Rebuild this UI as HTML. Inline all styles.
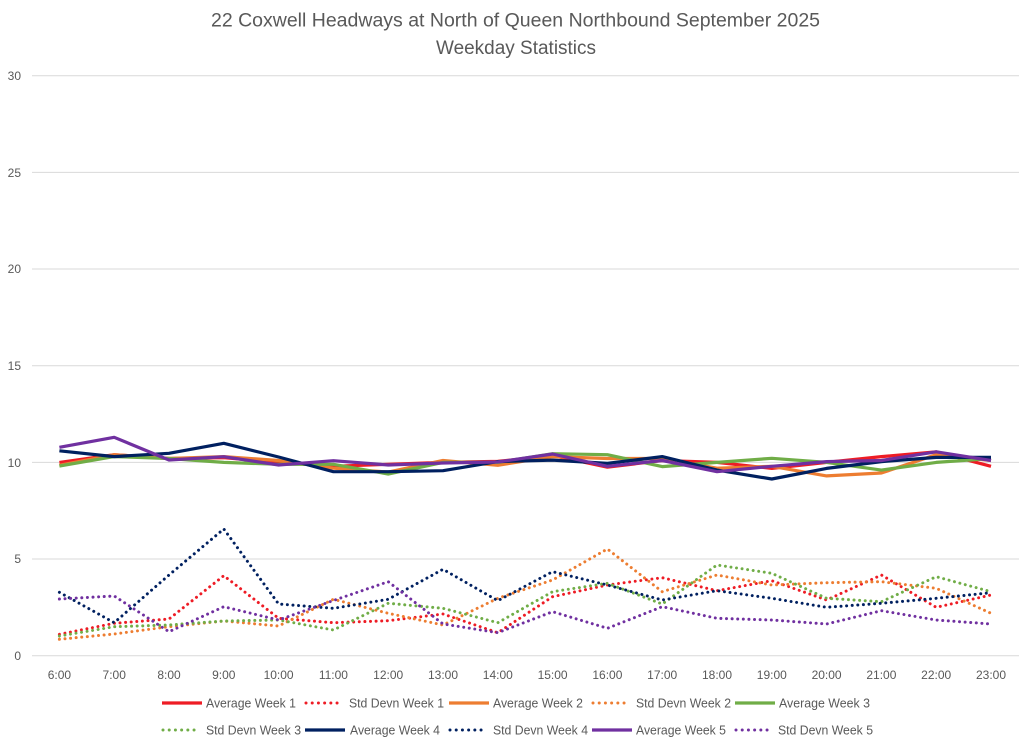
<!DOCTYPE html>
<html>
<head>
<meta charset="utf-8">
<style>
  html,body{margin:0;padding:0;background:#fff;}
  svg{display:block;}
  text{font-family:"Liberation Sans",sans-serif;fill:#595959;}
</style>
</head>
<body>
<svg width="1024" height="741" viewBox="0 0 1024 741" xmlns="http://www.w3.org/2000/svg">
  <rect width="1024" height="741" fill="#fff"/>
  <!-- Title -->
  <text x="515.5" y="26.5" font-size="19" text-anchor="middle" textLength="609" lengthAdjust="spacingAndGlyphs">22 Coxwell Headways at North of Queen Northbound September 2025</text>
  <text x="516" y="54" font-size="19" text-anchor="middle" textLength="160" lengthAdjust="spacingAndGlyphs">Weekday Statistics</text>

  <!-- Gridlines -->
  <g stroke="#d9d9d9" stroke-width="1">
    <line x1="32" y1="75.7" x2="1019" y2="75.7"/>
    <line x1="32" y1="172.4" x2="1019" y2="172.4"/>
    <line x1="32" y1="269" x2="1019" y2="269"/>
    <line x1="32" y1="365.7" x2="1019" y2="365.7"/>
    <line x1="32" y1="462.4" x2="1019" y2="462.4"/>
    <line x1="32" y1="559" x2="1019" y2="559"/>
    <line x1="32" y1="655.7" x2="1019" y2="655.7"/>
  </g>

  <!-- Y labels -->
  <g font-size="12" text-anchor="end">
    <text x="21" y="80">30</text>
    <text x="21" y="177">25</text>
    <text x="21" y="273">20</text>
    <text x="21" y="370">15</text>
    <text x="21" y="467">10</text>
    <text x="21" y="563">5</text>
    <text x="21" y="660">0</text>
  </g>

  <!-- X labels -->
  <g font-size="12" text-anchor="middle">
    <text x="59.4" y="679">6:00</text>
    <text x="114.2" y="679">7:00</text>
    <text x="169" y="679">8:00</text>
    <text x="223.8" y="679">9:00</text>
    <text x="278.6" y="679">10:00</text>
    <text x="333.4" y="679">11:00</text>
    <text x="388.2" y="679">12:00</text>
    <text x="443" y="679">13:00</text>
    <text x="497.8" y="679">14:00</text>
    <text x="552.6" y="679">15:00</text>
    <text x="607.4" y="679">16:00</text>
    <text x="662.2" y="679">17:00</text>
    <text x="717" y="679">18:00</text>
    <text x="771.8" y="679">19:00</text>
    <text x="826.6" y="679">20:00</text>
    <text x="881.4" y="679">21:00</text>
    <text x="936.2" y="679">22:00</text>
    <text x="991" y="679">23:00</text>
  </g>

  <!-- Series -->
  <g fill="none" stroke-linejoin="round">
    <polyline stroke="#ee1c25" stroke-width="3.2" points="59.4,462.4 114.2,454.7 169,458.5 223.8,457.6 278.6,462.4 333.4,466.3 388.2,464.3 443,462.4 497.8,461.4 552.6,455.6 607.4,467.2 662.2,460.5 717,462.4 771.8,468.4 826.6,462.4 881.4,456.6 936.2,451.8 991,466.3"/>
    <polyline stroke="#ee1c25" stroke-width="3" stroke-linecap="round" stroke-dasharray="0.01 5.6" points="59.4,634.3 114.2,623.3 169,619 223.8,575.7 278.6,618.3 333.4,622.7 388.2,620.7 443,614 497.8,632.7 552.6,596.7 607.4,585 662.2,577.7 717,590.7 771.8,580.7 826.6,600 881.4,575 936.2,607.3 991,595"/>
    <polyline stroke="#ed7d31" stroke-width="3.2" points="59.4,465.3 114.2,454.7 169,458.5 223.8,456.6 278.6,460.5 333.4,468.2 388.2,472.1 443,460.5 497.8,465.3 552.6,456.6 607.4,458.5 662.2,458.5 717,468.2 771.8,466.3 826.6,475.9 881.4,473 936.2,454.7 991,460.5"/>
    <polyline stroke="#ed7d31" stroke-width="3" stroke-linecap="round" stroke-dasharray="0.01 5.6" points="59.4,639.3 114.2,634 169,626.7 223.8,621 278.6,626 333.4,599.3 388.2,613.3 443,625 497.8,598.3 552.6,580 607.4,549 662.2,591.7 717,575 771.8,585 826.6,582.7 881.4,581.7 936.2,588.3 991,613.3"/>
    <polyline stroke="#70ad47" stroke-width="3.2" points="59.4,466 114.2,456.6 169,458.5 223.8,462.4 278.6,464.3 333.4,464.3 388.2,474 443,462.4 497.8,462.4 552.6,453.7 607.4,454.7 662.2,466.6 717,462.4 771.8,458.3 826.6,462.4 881.4,470.1 936.2,462.4 991,458.5"/>
    <polyline stroke="#70ad47" stroke-width="3" stroke-linecap="round" stroke-dasharray="0.01 5.6" points="59.4,636 114.2,626.7 169,625 223.8,621 278.6,620 333.4,630 388.2,603.3 443,608.3 497.8,622.7 552.6,591.7 607.4,583.3 662.2,604 717,565 771.8,573.3 826.6,598.3 881.4,601.7 936.2,576.7 991,591.7"/>
    <polyline stroke="#002060" stroke-width="3.2" points="59.4,450.8 114.2,456.6 169,453.3 223.8,443.3 278.6,457 333.4,471.7 388.2,471.7 443,470.7 497.8,461.6 552.6,460.1 607.4,463.4 662.2,456.6 717,470.1 771.8,479 826.6,468.4 881.4,461.6 936.2,457.4 991,457.4"/>
    <polyline stroke="#002060" stroke-width="3" stroke-linecap="round" stroke-dasharray="0.01 5.6" points="59.4,592.3 114.2,622.7 169,575 223.8,529 278.6,604 333.4,608.3 388.2,599.3 443,569.3 497.8,600.7 552.6,571.7 607.4,585 662.2,600 717,590.7 771.8,598.3 826.6,607.3 881.4,603.3 936.2,598.3 991,592.7"/>
    <polyline stroke="#7030a0" stroke-width="3.2" points="59.4,447.3 114.2,437.3 169,460 223.8,456.7 278.6,465 333.4,460.7 388.2,465 443,463 497.8,462 552.6,454 607.4,466.3 662.2,460.5 717,471.7 771.8,466.3 826.6,461.6 881.4,460.5 936.2,451.8 991,460.5"/>
    <polyline stroke="#7030a0" stroke-width="3" stroke-linecap="round" stroke-dasharray="0.01 5.6" points="59.4,599 114.2,596 169,631.7 223.8,606.7 278.6,620 333.4,600.5 388.2,581.7 443,624 497.8,632.7 552.6,611.7 607.4,628.3 662.2,606.7 717,618.3 771.8,620 826.6,624 881.4,610.7 936.2,620 991,624"/>
  </g>

  <!-- Legend -->
  <g fill="none">
    <line x1="162" y1="703" x2="202" y2="703" stroke="#ee1c25" stroke-width="3.2"/>
    <line x1="306" y1="703" x2="342" y2="703" stroke="#ee1c25" stroke-width="3" stroke-linecap="round" stroke-dasharray="0.01 6.2"/>
    <line x1="449" y1="703" x2="489" y2="703" stroke="#ed7d31" stroke-width="3.2"/>
    <line x1="593" y1="703" x2="629" y2="703" stroke="#ed7d31" stroke-width="3" stroke-linecap="round" stroke-dasharray="0.01 6.2"/>
    <line x1="735" y1="703" x2="775" y2="703" stroke="#70ad47" stroke-width="3.2"/>

    <line x1="163" y1="730" x2="199" y2="730" stroke="#70ad47" stroke-width="3" stroke-linecap="round" stroke-dasharray="0.01 6.2"/>
    <line x1="305" y1="730" x2="345" y2="730" stroke="#002060" stroke-width="3.2"/>
    <line x1="450" y1="730" x2="486" y2="730" stroke="#002060" stroke-width="3" stroke-linecap="round" stroke-dasharray="0.01 6.2"/>
    <line x1="592" y1="730" x2="632" y2="730" stroke="#7030a0" stroke-width="3.2"/>
    <line x1="736" y1="730" x2="772" y2="730" stroke="#7030a0" stroke-width="3" stroke-linecap="round" stroke-dasharray="0.01 6.2"/>
  </g>
  <g font-size="12.5">
    <text x="206" y="707.5" textLength="90" lengthAdjust="spacingAndGlyphs">Average Week 1</text>
    <text x="349" y="707.5" textLength="95" lengthAdjust="spacingAndGlyphs">Std Devn Week 1</text>
    <text x="493" y="707.5" textLength="90" lengthAdjust="spacingAndGlyphs">Average Week 2</text>
    <text x="636" y="707.5" textLength="95" lengthAdjust="spacingAndGlyphs">Std Devn Week 2</text>
    <text x="779" y="707.5" textLength="91" lengthAdjust="spacingAndGlyphs">Average Week 3</text>

    <text x="206" y="734.5" textLength="95" lengthAdjust="spacingAndGlyphs">Std Devn Week 3</text>
    <text x="350" y="734.5" textLength="90" lengthAdjust="spacingAndGlyphs">Average Week 4</text>
    <text x="493" y="734.5" textLength="95" lengthAdjust="spacingAndGlyphs">Std Devn Week 4</text>
    <text x="636" y="734.5" textLength="90" lengthAdjust="spacingAndGlyphs">Average Week 5</text>
    <text x="778" y="734.5" textLength="95" lengthAdjust="spacingAndGlyphs">Std Devn Week 5</text>
  </g>
</svg>
</body>
</html>
